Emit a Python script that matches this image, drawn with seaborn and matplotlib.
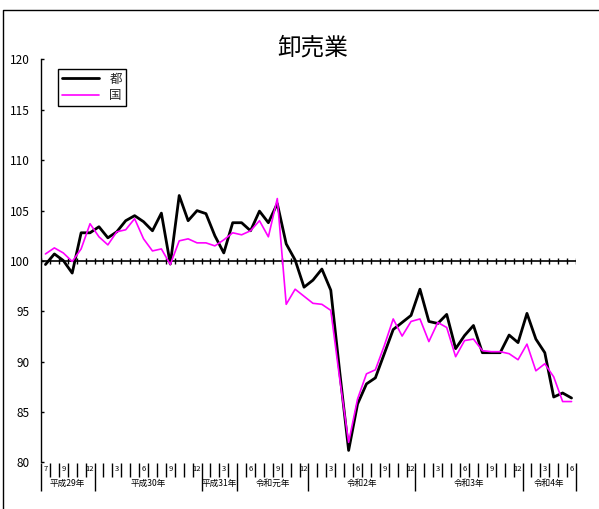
import numpy as np
import pandas as pd
import matplotlib
matplotlib.use("Agg")
import matplotlib.pyplot as plt
import seaborn as sns
from matplotlib.lines import Line2D
from matplotlib.transforms import blended_transform_factory

# ---- data ----
months = [7, 8, 9, 10, 11, 12] + list(range(1, 13)) * 4 + [1, 2, 3, 4, 5, 6]
tokyo = [99.65, 100.7, 100.05, 98.8, 102.8, 102.8, 103.4, 102.3, 102.9, 104.0,
         104.5, 103.9, 103.0, 104.75, 99.7, 106.5, 104.0, 105.0, 104.7, 102.5,
         100.8, 103.8, 103.8, 103.0, 104.95, 103.8, 105.7, 101.7, 100.1, 97.4,
         98.1, 99.2, 97.1, 89.0, 81.2, 85.8, 87.8, 88.4, 90.8, 93.2,
         93.9, 94.6, 97.2, 94.0, 93.8, 94.7, 91.3, 92.6, 93.6, 90.9,
         90.9, 90.9, 92.65, 91.9, 94.8, 92.25, 90.9, 86.5, 86.9, 86.4]
national = [100.7, 101.3, 100.8, 99.95, 101.2, 103.7, 102.4, 101.6, 102.9, 103.1,
            104.2, 102.2, 101.0, 101.2, 99.65, 102.0, 102.2, 101.8, 101.8, 101.5,
            102.1, 102.8, 102.6, 103.0, 104.0, 102.4, 106.2, 95.7, 97.2, 96.5,
            95.8, 95.7, 95.1, 88.3, 82.0, 86.3, 88.8, 89.2, 91.6, 94.25,
            92.55, 94.0, 94.25, 92.0, 93.9, 93.4, 90.5, 92.1, 92.25, 91.1,
            91.0, 91.0, 90.8, 90.2, 91.75, 89.1, 89.8, 88.5, 86.05, 86.05]
year_labels = ["平成29年", "平成30年", "平成31年", "令和元年", "令和2年", "令和3年", "令和4年"]
year_counts = [6, 12, 4, 8, 12, 12, 6]
labeled_months = [3, 6, 9, 12]
series_names = ["都", "国"]
title = "卸売業"

# ---- style ----
sns.set_theme(style="white")
plt.rcParams["font.family"] = ["Noto Sans CJK JP", "DejaVu Sans"]

W, H = 599, 509
fig = plt.figure(figsize=(W / 100, H / 100), dpi=100)
ax = fig.add_axes([41 / W, 46.5 / H, 535 / W, 403 / H])

n = len(tokyo)
df = pd.DataFrame({"idx": np.arange(n), series_names[0]: tokyo, series_names[1]: national})

sns.lineplot(data=df, x="idx", y=series_names[0], color="black", linewidth=2.0,
             label=series_names[0], ax=ax)
sns.lineplot(data=df, x="idx", y=series_names[1], color="#FF00FF", linewidth=1.2,
             label=series_names[1], ax=ax)

ax.set_xlim(-0.5, n - 0.5)
ax.set_ylim(80, 120)
ax.set_xlabel("")
ax.set_ylabel("")
ax.set_yticks(range(80, 121, 5))
ax.tick_params(axis="y", left=True, direction="in", length=2.5, width=1, pad=8,
               labelsize=8.5, colors="black")
for s in ["top", "right", "bottom"]:
    ax.spines[s].set_visible(False)
ax.spines["left"].set_color("black")
ax.spines["left"].set_linewidth(1.0)

# crossing axis at 100 with cross ticks
boundaries = np.arange(n + 1) - 0.5
ax.axhline(100, color="black", lw=1.2, zorder=1)
ax.vlines(boundaries, 99.75, 100.25, color="black", lw=1.0, zorder=1)

# bottom category ticks
year_edges = np.concatenate([[0], np.cumsum(year_counts)]) - 0.5
ax.set_xticks(year_edges)
ax.set_xticklabels([])
ax.set_xticks(boundaries, minor=True)
ax.tick_params(axis="x", which="major", bottom=True, direction="out", length=20, width=1, color="black")
ax.tick_params(axis="x", which="minor", bottom=True, direction="out", length=10, width=1, color="black")

trans = blended_transform_factory(ax.transData, ax.transAxes)
for i, m in enumerate(months):
    if i == 0 or m in labeled_months:
        ax.text(i, -0.017, str(m), transform=trans, ha="center", va="center", fontsize=5.5, color="black")
starts = np.concatenate([[0], np.cumsum(year_counts)[:-1]])
for lab, s, c in zip(year_labels, starts, year_counts):
    ax.text(s + (c - 1) / 2, -0.052, lab, transform=trans, ha="center", va="center", fontsize=6.2, color="black")

# legend
leg = ax.legend(loc="upper left", bbox_to_anchor=(58 / W, 1 - 69 / H), bbox_transform=fig.transFigure,
                frameon=True, fancybox=False, edgecolor="black", fontsize=9, handlelength=3.0,
                borderaxespad=0, borderpad=0.3, handletextpad=0.8, labelspacing=0.25, framealpha=1)
leg.get_frame().set_linewidth(1.0)

# title and outer frame
fig.text(313 / W, 1 - 48 / H, title, ha="center", va="center", fontsize=17, color="black")
fig.add_artist(Line2D([3 / W, 3 / W, 1], [0, 1 - 10 / H, 1 - 10 / H], transform=fig.transFigure,
                      color="black", lw=1.0))

fig.savefig("out.png", dpi=100)
